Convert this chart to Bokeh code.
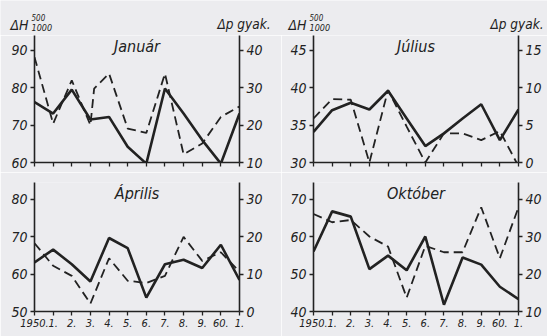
from bokeh.plotting import figure
from bokeh.models import Range1d, LinearAxis, FixedTicker, Label
from bokeh.layouts import column, row
from bokeh.embed import file_html
from bokeh.resources import INLINE

# ---- data ----
years = [1950, 1951, 1952, 1953, 1954, 1955, 1956, 1957, 1958, 1959, 1960, 1961]
year_labels = ["1950.", "1.", "2.", "3.", "4.", "5.", "6.", "7.", "8.", "9.", "60.", "1."]

jan_dh = [76.2, 73.1, 79.5, 71.5, 72.2, 64.2, 59.7, 79.8, 73.1, 66.0, 59.7, 73.1]
jan_dp_years = [1950, 1951, 1952, 1953, 1953.2, 1954, 1955, 1956, 1957, 1958, 1959, 1960, 1961]
jan_dp = [38.2, 20.4, 32.0, 20.0, 29.8, 33.8, 19.1, 17.9, 33.8, 12.2, 15.1, 22.2, 25.0]

jul_dh = [34.1, 37.0, 38.0, 37.1, 39.6, 35.9, 32.2, 33.9, 35.9, 37.8, 33.0, 37.1]
jul_dp = [5.9, 8.5, 8.4, 0.0, 9.7, 4.8, 0.0, 3.9, 3.9, 3.0, 4.2, -0.5]

apr_dh = [63.1, 66.5, 62.6, 58.0, 69.6, 66.9, 53.7, 62.6, 63.8, 61.6, 67.8, 58.4]
apr_dp = [18.2, 12.2, 9.5, 2.1, 14.2, 8.2, 7.6, 9.5, 19.9, 13.5, 15.8, 10.6]

okt_dh = [56.0, 66.7, 65.3, 51.3, 54.9, 51.0, 60.0, 41.8, 54.4, 52.5, 46.6, 43.3]
okt_dp = [36.0, 33.8, 34.4, 30.0, 27.3, 13.7, 27.5, 25.8, 25.8, 37.8, 24.2, 37.8]

INK = "#222222"
BG = "#ececef"
FONT = "'DejaVu Sans Condensed', 'DejaVu Sans', sans-serif"


def style_axis(ax, show_labels=True, size="13px"):
    ax.axis_line_color = INK
    ax.axis_line_width = 1.6
    ax.major_tick_line_color = INK
    ax.major_tick_line_width = 1.3
    ax.major_tick_out = 4
    ax.major_tick_in = 0
    ax.minor_tick_line_color = None
    ax.major_label_text_font = FONT
    ax.major_label_text_font_style = "italic"
    ax.major_label_standoff = 3
    if show_labels:
        ax.major_label_text_color = INK
        ax.major_label_text_font_size = size
    else:
        ax.major_label_text_color = None
        ax.major_label_text_font_size = "1px"


def header(width, height, dh_xs, dp_xs):
    h = figure(width=width, height=height, x_range=Range1d(0, width), y_range=Range1d(height, 0),
               output_backend="svg", toolbar_location=None, x_axis_location=None, y_axis_location=None,
               title=None, min_border=0, min_border_left=0, min_border_right=0,
               min_border_top=0, min_border_bottom=0,
               background_fill_color=BG, border_fill_color=BG)
    h.outline_line_color = None
    h.grid.visible = False
    common = dict(text_font=FONT, text_font_style="italic", text_color=INK, text_baseline="middle")
    for dh_x in dh_xs:
        h.add_layout(Label(x=dh_x, y=24, text="ΔH", text_font_size="14px", **common))
        h.add_layout(Label(x=dh_x + 21, y=16.5, text="500", text_font_size="8px", **common))
        h.add_layout(Label(x=dh_x + 21, y=26.5, text="1000", text_font_size="9px", **common))
    for dp_x in dp_xs:
        h.add_layout(Label(x=dp_x, y=23, text="Δp gyak.", text_font_size="13.5px", **common))
    return h


def panel(title, dh, dp_x, dp, lrng, rrng, lticks, rticks, width, height, borders, xlabels):
    bl, br, bt, bb = borders
    p = figure(width=width, height=height, x_range=Range1d(years[0], years[-1]),
               y_range=Range1d(*lrng), output_backend="svg", toolbar_location=None, title=None,
               min_border_left=bl, min_border_right=br, min_border_top=bt, min_border_bottom=bb,
               background_fill_color=BG, border_fill_color=BG)
    p.outline_line_color = None
    p.grid.visible = False
    p.extra_y_ranges = {"r": Range1d(*rrng)}
    rax = LinearAxis(y_range_name="r")
    p.add_layout(rax, "right")

    p.xaxis.ticker = FixedTicker(ticks=years)
    p.xaxis.major_label_overrides = {y: l for y, l in zip(years, year_labels)}
    p.yaxis[0].ticker = FixedTicker(ticks=lticks)
    rax.ticker = FixedTicker(ticks=rticks)
    for ax in p.yaxis:
        style_axis(ax, True, "14px")
    style_axis(p.xaxis[0], xlabels, "11px")

    p.line(dp_x, dp, y_range_name="r", line_color=INK, line_width=1.8, line_dash="9 5")
    p.line(years, dh, line_color=INK, line_width=2.6)

    ymid = lrng[1] - (lrng[1] - lrng[0]) * 0.085
    p.add_layout(Label(x=(years[0] + years[-1]) / 2, y=ymid, text=title, text_align="center",
                       text_baseline="middle", text_font=FONT, text_font_style="italic",
                       text_font_size="16px", text_color=INK))
    return p


hdr = header(547, 35, [10, 288], [217, 490])
p1 = panel("Január", jan_dh, jan_dp_years, jan_dp, (60, 94), (10, 44), [60, 70, 80, 90], [10, 20, 30, 40],
           281, 137, (34, 42, 0, 10), False)
p2 = panel("Július", jul_dh, years, jul_dp, (30, 47), (0, 17), [30, 35, 40, 45], [0, 5, 10, 15],
           266, 137, (32, 29, 0, 10), False)
p3 = panel("Április", apr_dh, years, apr_dp, (50, 84.4), (0, 34.4), [50, 60, 70, 80], [0, 10, 20, 30],
           281, 164, (34, 42, 10, 25), True)
p4 = panel("Október", okt_dh, years, okt_dp, (40, 74.4), (10, 44.4), [40, 50, 60, 70], [10, 20, 30, 40],
           266, 164, (32, 29, 10, 25), True)

layout = column(hdr, row(p1, p2, spacing=0), row(p3, p4, spacing=0), spacing=0)
open("out.html", "w").write(file_html(layout, INLINE))
